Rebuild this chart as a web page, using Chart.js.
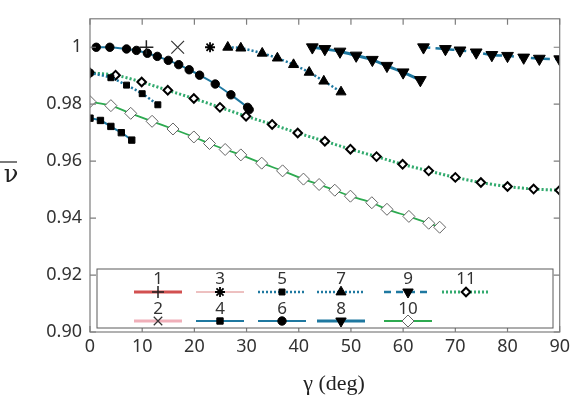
<!DOCTYPE html>
<html>
<head>
<meta charset="utf-8">
<script src="https://cdn.jsdelivr.net/npm/chart.js@4.4.0/dist/chart.umd.min.js"></script>
<style>
  html, body { margin: 0; padding: 0; background: #fff; }
  #wrap { width: 574px; height: 399px; }
</style>
</head>
<body>
<div id="wrap"><canvas id="canvas" width="574" height="399"></canvas></div>
<script>
// values, gamma in degrees
var s1x = [10.8], s1y = [1.0];
var s2x = [16.8], s2y = [1.0];
var s3x = [23.0], s3y = [1.0];
var s4x = [0, 2, 4, 6, 8];
var s4y = [0.9751, 0.9743, 0.9722, 0.9700, 0.9674];
var s5x = [0, 4, 7, 10, 13];
var s5y = [0.9910, 0.9893, 0.9867, 0.9837, 0.9798];
var s6x = [1.2, 3.8, 7.0, 8.9, 11.0, 12.9, 15.0, 17.0, 19.0, 21.0, 24.0, 27.0, 30.2, 30.5];
var s6y = [1.0, 1.0, 0.9994, 0.9989, 0.9979, 0.9968, 0.9954, 0.9939, 0.9921, 0.9902, 0.9871, 0.9833, 0.9789, 0.9781];
var s7x = [26.4, 28.9, 33.0, 35.9, 39.0, 42.0, 44.8, 48.1];
var s7y = [1.0, 0.9997, 0.9979, 0.9962, 0.9939, 0.9912, 0.9881, 0.9843];
var s8x = [42.6, 45.0, 47.9, 51.0, 54.1, 56.9, 60.0, 63.3];
var s8y = [1.0, 0.9994, 0.9985, 0.9971, 0.9956, 0.9935, 0.9912, 0.9885];
var s9x = [63.9, 68.1, 70.9, 74.0, 77.0, 80.0, 83.1, 86.1, 90.0];
var s9y = [1.0, 0.9994, 0.9989, 0.9982, 0.9973, 0.9970, 0.9964, 0.9960, 0.9958];
var s10x = [0, 4, 7.8, 11.9, 15.9, 19.9, 22.9, 25.9, 28.9, 32.9, 36.9, 40.9, 43.9, 46.9, 49.9, 54.0, 56.9, 61.1, 64.9, 67.0];
var s10y = [0.9809, 0.9795, 0.9768, 0.9740, 0.9713, 0.9685, 0.9662, 0.9641, 0.9622, 0.9593, 0.9566, 0.9537, 0.9518, 0.9498, 0.9477, 0.9454, 0.9431, 0.9406, 0.9382, 0.9368];
var s11x = [0, 4.9, 9.9, 14.9, 19.9, 24.9, 29.9, 34.9, 39.8, 45.0, 49.9, 54.9, 59.9, 64.9, 70.0, 74.9, 80.0, 85.0, 90.0];
var s11y = [0.9910, 0.9902, 0.9878, 0.9849, 0.9820, 0.9789, 0.9758, 0.9729, 0.9699, 0.9670, 0.9642, 0.9616, 0.9589, 0.9566, 0.9543, 0.9525, 0.9511, 0.9502, 0.9498];

var seriesLabels = ["1", "2", "3", "4", "5", "6", "7", "8", "9", "10", "11"];
var xTicks = [0, 10, 20, 30, 40, 50, 60, 70, 80, 90];
var yTicks = [0.90, 0.92, 0.94, 0.96, 0.98, 1.00];

var teal = "rgb(30,120,160)";
var gray = "rgb(125,125,125)";

function pts(xs, ys) {
    return xs.map(function (x, i) { return { x: x, y: ys[i] }; });
}

function series(label, xs, ys, style) {
    var d = {
        label: label,
        data: pts(xs, ys),
        showLine: true,
        fill: false,
        tension: 0.3,
        borderColor: teal,
        borderWidth: 2,
        borderDash: [],
        pointStyle: "circle",
        pointRadius: 4,
        pointRotation: 0,
        pointBorderWidth: 1,
        pointBackgroundColor: "#000",
        pointBorderColor: "#000"
    };
    for (var k in style) d[k] = style[k];
    return d;
}

var datasets = [
    series(seriesLabels[0], s1x, s1y, { borderColor: "rgb(210,80,80)", borderWidth: 3, pointStyle: "cross", pointRadius: 7, pointBorderWidth: 1.5, pointBorderColor: "#222" }),
    series(seriesLabels[1], s2x, s2y, { borderColor: "rgb(240,175,185)", borderWidth: 3, pointStyle: "crossRot", pointRadius: 9, pointBorderWidth: 1.2, pointBorderColor: "#333" }),
    series(seriesLabels[2], s3x, s3y, { borderColor: "rgb(220,130,130)", borderWidth: 1, pointStyle: "star", pointRadius: 5, pointBorderWidth: 1.8, pointBorderColor: "#000" }),
    series(seriesLabels[3], s4x, s4y, { borderWidth: 2, pointStyle: "rect", pointRadius: 4.5 }),
    series(seriesLabels[4], s5x, s5y, { borderWidth: 2.5, borderDash: [2, 2], pointStyle: "rect", pointRadius: 4.2 }),
    series(seriesLabels[5], s6x, s6y, { borderWidth: 2, pointStyle: "circle", pointRadius: 4.2 }),
    series(seriesLabels[6], s7x, s7y, { borderWidth: 2.5, borderDash: [2, 2], pointStyle: "triangle", pointRadius: 5.8 }),
    series(seriesLabels[7], s8x, s8y, { borderWidth: 3, pointStyle: "triangle", pointRotation: 180, pointRadius: 6.8 }),
    series(seriesLabels[8], s9x, s9y, { borderWidth: 2.5, borderDash: [7, 5], pointStyle: "triangle", pointRotation: 180, pointRadius: 6.8 }),
    series(seriesLabels[9], s10x, s10y, { borderColor: "rgb(45,170,80)", borderWidth: 1.8, pointStyle: "rectRot", pointRadius: 6, pointBorderWidth: 1, pointBackgroundColor: "#fff", pointBorderColor: "rgb(100,100,100)" }),
    series(seriesLabels[10], s11x, s11y, { borderColor: "rgb(50,170,110)", borderWidth: 3, borderDash: [2, 2], pointStyle: "rectRot", pointRadius: 4.3, pointBorderWidth: 2, pointBackgroundColor: "#fff", pointBorderColor: "#000" })
];

// legend slots: [dataset index, column centre, row]
var legendSlots = [
    [0, 158, 0], [2, 220, 0], [4, 282, 0], [6, 341, 0], [8, 408, 0], [10, 466, 0],
    [1, 158, 1], [3, 220, 1], [5, 282, 1], [7, 341, 1], [9, 408, 1]
];

var boxPlugin = {
    id: "boxPlugin",
    afterDraw: function (chart) {
        var ctx = chart.ctx, a = chart.chartArea;
        var xs = chart.scales.x, ys = chart.scales.y;
        ctx.save();
        // frame with inward ticks
        ctx.strokeStyle = gray;
        ctx.lineWidth = 1.2;
        ctx.strokeRect(a.left, a.top, a.right - a.left, a.bottom - a.top);
        ctx.beginPath();
        xTicks.forEach(function (v) {
            var p = xs.getPixelForValue(v);
            ctx.moveTo(p, a.bottom); ctx.lineTo(p, a.bottom - 6);
            ctx.moveTo(p, a.top); ctx.lineTo(p, a.top + 6);
        });
        yTicks.forEach(function (v) {
            var p = ys.getPixelForValue(v);
            ctx.moveTo(a.left, p); ctx.lineTo(a.left + 6, p);
            ctx.moveTo(a.right, p); ctx.lineTo(a.right - 6, p);
        });
        ctx.stroke();

        // legend box
        var lx = a.left + 7, ly = 269, lw = 553 - lx, lh = 328 - ly;
        ctx.fillStyle = "#fff";
        ctx.fillRect(lx, ly, lw, lh);
        ctx.strokeStyle = "rgb(90,90,90)";
        ctx.lineWidth = 1;
        ctx.strokeRect(lx, ly, lw, lh);

        legendSlots.forEach(function (s) {
            var ds = chart.data.datasets[s[0]];
            var cx = s[1];
            var ty = s[2] === 0 ? 279 : 309;
            var my = s[2] === 0 ? 292 : 321;
            ctx.fillStyle = "#333";
            ctx.font = "17px 'Noto Sans', sans-serif";
            ctx.textAlign = "center";
            ctx.textBaseline = "middle";
            ctx.fillText(ds.label, cx, ty);
            ctx.beginPath();
            ctx.setLineDash(ds.borderDash);
            ctx.strokeStyle = ds.borderColor;
            ctx.lineWidth = ds.borderWidth;
            ctx.moveTo(cx - 24, my);
            ctx.lineTo(cx + 24, my);
            ctx.stroke();
            ctx.setLineDash([]);
            ctx.fillStyle = ds.pointBackgroundColor;
            ctx.strokeStyle = ds.pointBorderColor;
            ctx.lineWidth = ds.pointBorderWidth;
            Chart.helpers.drawPoint(ctx, {
                pointStyle: ds.pointStyle,
                rotation: ds.pointRotation,
                radius: Math.min(ds.pointRadius, 6),
                borderWidth: ds.pointBorderWidth
            }, cx, my);
        });

        // axis titles
        ctx.fillStyle = "#222";
        ctx.font = "24px 'DejaVu Serif', serif";
        ctx.textAlign = "center";
        ctx.textBaseline = "middle";
        ctx.fillText("ν", 11, 176);
        ctx.strokeStyle = "#222";
        ctx.lineWidth = 1.2;
        ctx.beginPath();
        ctx.moveTo(0, 162); ctx.lineTo(17, 162);
        ctx.stroke();
        ctx.font = "22px 'Liberation Serif', serif";
        ctx.fillText("γ (deg)", 334, 384);
        ctx.restore();
    }
};

var ctx = document.getElementById("canvas").getContext("2d");
var myChart = new Chart(ctx, {
    type: "scatter",
    data: { datasets: datasets },
    options: {
        responsive: false,
        animation: false,
        layout: { padding: { top: 15, right: 13, left: 0, bottom: 0 } },
        plugins: { legend: { display: false }, tooltip: { enabled: false } },
        scales: {
            x: {
                type: "linear",
                min: 0,
                max: 90,
                afterFit: function (s) { s.height = 67; },
                afterBuildTicks: function (s) { s.ticks = xTicks.map(function (v) { return { value: v }; }); },
                grid: { display: false, drawTicks: false },
                border: { display: false },
                ticks: { color: "#333", padding: 4, font: { family: "'Noto Sans', sans-serif", size: 18 } }
            },
            y: {
                type: "linear",
                min: 0.9,
                max: 1.01,
                afterFit: function (s) { s.width = 90; },
                afterBuildTicks: function (s) { s.ticks = yTicks.map(function (v) { return { value: v }; }); },
                grid: { display: false, drawTicks: false },
                border: { display: false },
                ticks: {
                    color: "#333",
                    padding: 8,
                    font: { family: "'Noto Sans', sans-serif", size: 18 },
                    callback: function (v) { return Math.abs(v - 1) < 1e-9 ? "1" : v.toFixed(2); }
                }
            }
        }
    },
    plugins: [boxPlugin]
});
</script>
</body>
</html>
